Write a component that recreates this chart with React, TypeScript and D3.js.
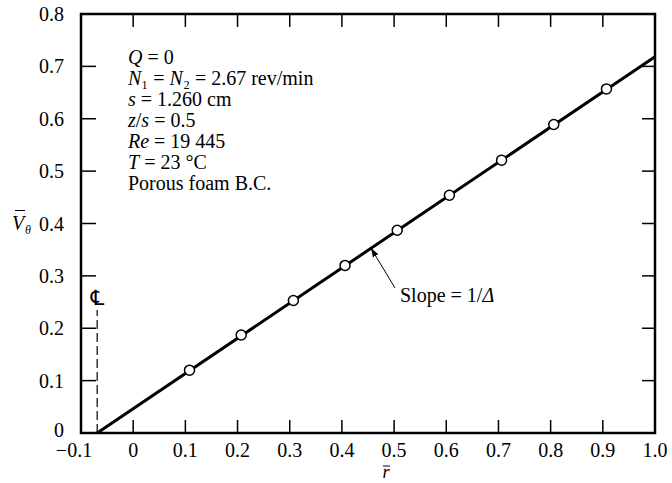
import React from "react";
import * as d3 from "d3";

const rValues = [0.108, 0.207, 0.307, 0.406, 0.506, 0.606, 0.706, 0.806, 0.907];
const vValues = [0.12, 0.187, 0.253, 0.32, 0.387, 0.454, 0.521, 0.589, 0.657];
const fitR = [-0.069, 1.0];
const fitV = [0, 0.7185];
const xTicks = [0, 0.1, 0.2, 0.3, 0.4, 0.5, 0.6, 0.7, 0.8, 0.9];
const xTickLabels = ["-0.1", "0", "0.1", "0.2", "0.3", "0.4", "0.5", "0.6", "0.7", "0.8", "0.9", "1.0"];
const xLabelValues = [-0.1, 0, 0.1, 0.2, 0.3, 0.4, 0.5, 0.6, 0.7, 0.8, 0.9, 1.0];
const yTicks = [0.1, 0.2, 0.3, 0.4, 0.5, 0.6, 0.7];
const yLabelValues = [0, 0.1, 0.2, 0.3, 0.4, 0.5, 0.6, 0.7, 0.8];
const yTickLabels = ["0", "0.1", "0.2", "0.3", "0.4", "0.5", "0.6", "0.7", "0.8"];
const centerlineR = -0.069;
const centerlineTopV = 0.235;

const FONT = "'Liberation Serif', 'Times New Roman', serif";

export default function App() {
  const W = 672, H = 483;
  const x = d3.scaleLinear().domain([-0.1, 1.0]).range([81, 655]);
  const y = d3.scaleLinear().domain([0, 0.8]).range([433, 14]);
  const line = d3.line<[number, number]>().x(d => x(d[0])).y(d => y(d[1]));
  const fitPts: [number, number][] = fitR.map((r, i) => [r, fitV[i]]);
  const tL = 13;
  const fs = 20;

  const tipX = x(0.4557), tipY = y(0.353);
  const tailX = x(0.5017), tailY = y(0.277);

  return (
    <svg width={W} height={H} style={{ position: "absolute", left: 0, top: 0, background: "#fff" }}
      fontFamily={FONT}>
      <defs>
        <marker id="ah" viewBox="0 0 10 10" refX="10" refY="5" markerWidth="9" markerHeight="9"
          orient="auto" markerUnits="userSpaceOnUse">
          <path d="M0,1.5 L10,5 L0,8.5 Z" fill="#000" />
        </marker>
      </defs>
      {/* frame */}
      <rect x={x(-0.1)} y={y(0.8)} width={x(1.0) - x(-0.1)} height={y(0) - y(0.8)}
        fill="none" stroke="#000" strokeWidth={2.5} />
      {/* x ticks bottom & top */}
      {xTicks.map(t => (
        <g key={"xt" + t}>
          <line x1={x(t)} x2={x(t)} y1={y(0)} y2={y(0) - tL} stroke="#000" strokeWidth={1.5} />
          <line x1={x(t)} x2={x(t)} y1={y(0.8)} y2={y(0.8) + tL} stroke="#000" strokeWidth={1.5} />
        </g>
      ))}
      {/* y ticks left & right */}
      {yTicks.map(t => (
        <g key={"yt" + t}>
          <line x1={x(-0.1)} x2={x(-0.1) + tL + 2} y1={y(t)} y2={y(t)} stroke="#000" strokeWidth={1.5} />
          <line x1={x(1.0)} x2={x(1.0) - tL} y1={y(t)} y2={y(t)} stroke="#000" strokeWidth={1.5} />
        </g>
      ))}
      {/* x labels */}
      {xLabelValues.map((v, i) => (
        <text key={"xl" + i} x={x(v) + (i === 0 ? -7 : 0)} y={y(0) + 24} fontSize={fs} textAnchor="middle">
          {xTickLabels[i].replace("-", "\u2212")}
        </text>
      ))}
      {/* y labels */}
      {yLabelValues.map((v, i) => (
        <text key={"yl" + i} x={64} y={y(v) + (i === 0 ? 4 : 7)} fontSize={fs} textAnchor="end">
          {yTickLabels[i]}
        </text>
      ))}
      {/* axis titles */}
      <g>
        <text x={12} y={y(0.4) + 6} fontSize={fs} fontStyle="italic">V</text>
        <line x1={15} x2={25} y1={y(0.4) - 13} y2={y(0.4) - 13} stroke="#000" strokeWidth={1} />
        <text x={25} y={y(0.4) + 10} fontSize={12} fontStyle="italic">θ</text>
      </g>
      <g>
        <text x={386} y={478} fontSize={18} fontStyle="italic" textAnchor="middle">r</text>
        <line x1={383} x2={390} y1={466} y2={466} stroke="#000" strokeWidth={1} />
      </g>
      {/* centerline */}
      <line x1={x(centerlineR)} x2={x(centerlineR)} y1={y(0)} y2={y(centerlineTopV)}
        stroke="#000" strokeWidth={1.2} strokeDasharray="9,4" />
      <text x={x(centerlineR)} y={y(centerlineTopV) - 5} fontSize={21} textAnchor="middle"
        fontFamily="'DejaVu Serif', 'DejaVu Sans', serif">℄</text>
      {/* fit line */}
      <path d={line(fitPts) || ""} fill="none" stroke="#000" strokeWidth={3} />
      {/* data points */}
      {rValues.map((r, i) => (
        <circle key={"p" + i} cx={x(r)} cy={y(vValues[i])} r={5} fill="#fff" stroke="#000" strokeWidth={1.5} />
      ))}
      {/* slope annotation */}
      <line x1={tailX} y1={tailY} x2={tipX} y2={tipY} stroke="#000" strokeWidth={1} markerEnd="url(#ah)" />
      <text x={tailX + 5} y={tailY + 14} fontSize={20}>
        Slope = 1/<tspan fontStyle="italic">Δ</tspan>
      </text>
      {/* parameter block */}
      <g fontSize={fs}>
        <text x={128} y={64}><tspan fontStyle="italic">Q</tspan> = 0</text>
        <text x={128} y={85}>
          <tspan fontStyle="italic">N</tspan>₁ = <tspan fontStyle="italic">N</tspan>₂ = 2.67 rev/min
        </text>
        <text x={128} y={106}><tspan fontStyle="italic">s</tspan> = 1.260 cm</text>
        <text x={128} y={127}><tspan fontStyle="italic">z</tspan>/<tspan fontStyle="italic">s</tspan> = 0.5</text>
        <text x={128} y={148}><tspan fontStyle="italic">Re</tspan> = 19 445</text>
        <text x={128} y={169}><tspan fontStyle="italic">T</tspan> = 23 °C</text>
        <text x={128} y={190}>Porous foam B.C.</text>
      </g>
    </svg>
  );
}
